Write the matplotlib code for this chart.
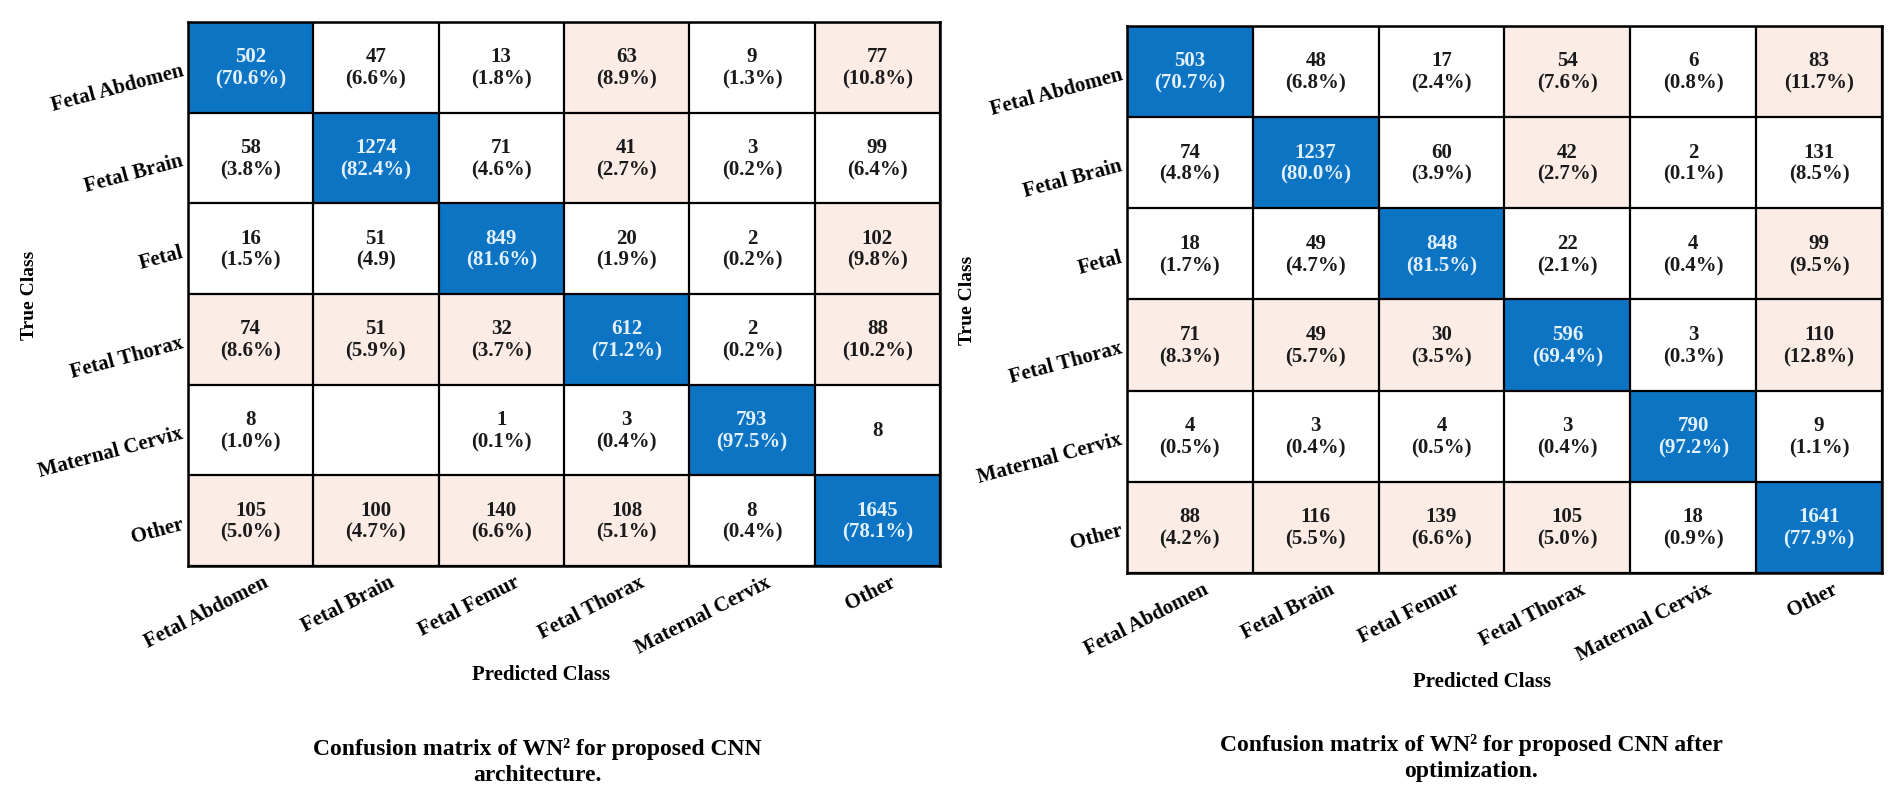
import numpy as np
import matplotlib.pyplot as plt
from matplotlib.colors import ListedColormap

# class names
row_names = ['Fetal Abdomen', 'Fetal Brain', 'Fetal', 'Fetal Thorax', 'Maternal Cervix', 'Other']
col_names = ['Fetal Abdomen', 'Fetal Brain', 'Fetal Femur', 'Fetal Thorax', 'Maternal Cervix', 'Other']

# left matrix (before optimization)
counts_a = [
    [502, 47, 13, 63, 9, 77],
    [58, 1274, 71, 41, 3, 99],
    [16, 51, 849, 20, 2, 102],
    [74, 51, 32, 612, 2, 88],
    [8, None, 1, 3, 793, 8],
    [105, 100, 140, 108, 8, 1645],
]
pct_a = [
    ['70.6%', '6.6%', '1.8%', '8.9%', '1.3%', '10.8%'],
    ['3.8%', '82.4%', '4.6%', '2.7%', '0.2%', '6.4%'],
    ['1.5%', '4.9', '81.6%', '1.9%', '0.2%', '9.8%'],
    ['8.6%', '5.9%', '3.7%', '71.2%', '0.2%', '10.2%'],
    ['1.0%', '', '0.1%', '0.4%', '97.5%', ''],
    ['5.0%', '4.7%', '6.6%', '5.1%', '0.4%', '78.1%'],
]

# right matrix (after optimization)
counts_b = [
    [503, 48, 17, 54, 6, 83],
    [74, 1237, 60, 42, 2, 131],
    [18, 49, 848, 22, 4, 99],
    [71, 49, 30, 596, 3, 110],
    [4, 3, 4, 3, 790, 9],
    [88, 116, 139, 105, 18, 1641],
]
pct_b = [
    ['70.7%', '6.8%', '2.4%', '7.6%', '0.8%', '11.7%'],
    ['4.8%', '80.0%', '3.9%', '2.7%', '0.1%', '8.5%'],
    ['1.7%', '4.7%', '81.5%', '2.1%', '0.4%', '9.5%'],
    ['8.3%', '5.7%', '3.5%', '69.4%', '0.3%', '12.8%'],
    ['0.5%', '0.4%', '0.5%', '0.4%', '97.2%', '1.1%'],
    ['4.2%', '5.5%', '6.6%', '5.0%', '0.9%', '77.9%'],
]

# cell shading: 0 white, 1 light peach, 2 blue (diagonal)
shade = [
    [2, 0, 0, 1, 0, 1],
    [0, 2, 0, 1, 0, 0],
    [0, 0, 2, 0, 0, 1],
    [1, 1, 1, 2, 0, 1],
    [0, 0, 0, 0, 2, 0],
    [1, 1, 1, 1, 0, 2],
]

captions = ['Confusion matrix of WN\u00b2 for proposed CNN\narchitecture.',
            'Confusion matrix of WN\u00b2 for proposed CNN after\noptimization.']

plt.rcParams['font.family'] = ['Liberation Serif', 'DejaVu Serif']
plt.rcParams['font.weight'] = 'bold'

cmap = ListedColormap(['#ffffff', '#fbece6', '#0d74c4'])

fig = plt.figure(figsize=(19.02, 8.03), dpi=100)
fig.patch.set_facecolor('white')

axes_pos = [[0.0988, 0.2939, 0.3954, 0.6775],
            [0.5925, 0.2852, 0.3970, 0.6812]]


def draw(ax, counts, pct):
    n = len(counts)
    ax.imshow(np.array(shade), cmap=cmap, vmin=0, vmax=2, aspect='auto')
    for i in range(n):
        for j in range(n):
            c = counts[i][j]
            if c is None:
                continue
            txt = f'{c}\n({pct[i][j]})' if pct[i][j] else str(c)
            col = '#e2f1fc' if shade[i][j] == 2 else '#1a1a1a'
            ax.text(j, i, txt, ha='center', va='center', fontsize=15,
                    fontweight='bold', color=col, linespacing=1.15)
    for k in range(n + 1):
        ax.axhline(k - 0.5, color='black', lw=1.6)
        ax.axvline(k - 0.5, color='black', lw=1.6)
    ax.set_xlim(-0.5, n - 0.5)
    ax.set_ylim(n - 0.5, -0.5)
    ax.set_xticks(np.arange(n) + 0.1)
    ax.set_yticks(range(n))
    ax.set_xticklabels(col_names, rotation=27, ha='right', rotation_mode='anchor',
                       fontsize=15, fontweight='bold')
    ax.set_yticklabels(row_names, rotation=15, ha='right', rotation_mode='anchor',
                       fontsize=15, fontweight='bold')
    ax.tick_params(length=0, pad=4)
    for s in ax.spines.values():
        s.set_linewidth(1.8)
    ax.set_ylabel('True Class', fontsize=14, fontweight='bold')
    ax.yaxis.set_label_coords(-0.2, 0.5)
    ax.set_xlabel('Predicted Class', fontsize=15, fontweight='bold')
    ax.xaxis.set_label_coords(0.47, -0.18)


for k, (counts, pct) in enumerate([(counts_a, pct_a), (counts_b, pct_b)]):
    ax = fig.add_axes(axes_pos[k])
    draw(ax, counts, pct)

fig.text(537 / 1902, 1 - 762 / 803, captions[0], ha='center', va='center',
         fontsize=17, fontweight='bold', linespacing=1.3)
fig.text(1471 / 1902, 1 - 758 / 803, captions[1], ha='center', va='center',
         fontsize=17, fontweight='bold', linespacing=1.3)

fig.savefig('out.png', dpi=100, facecolor='white')
